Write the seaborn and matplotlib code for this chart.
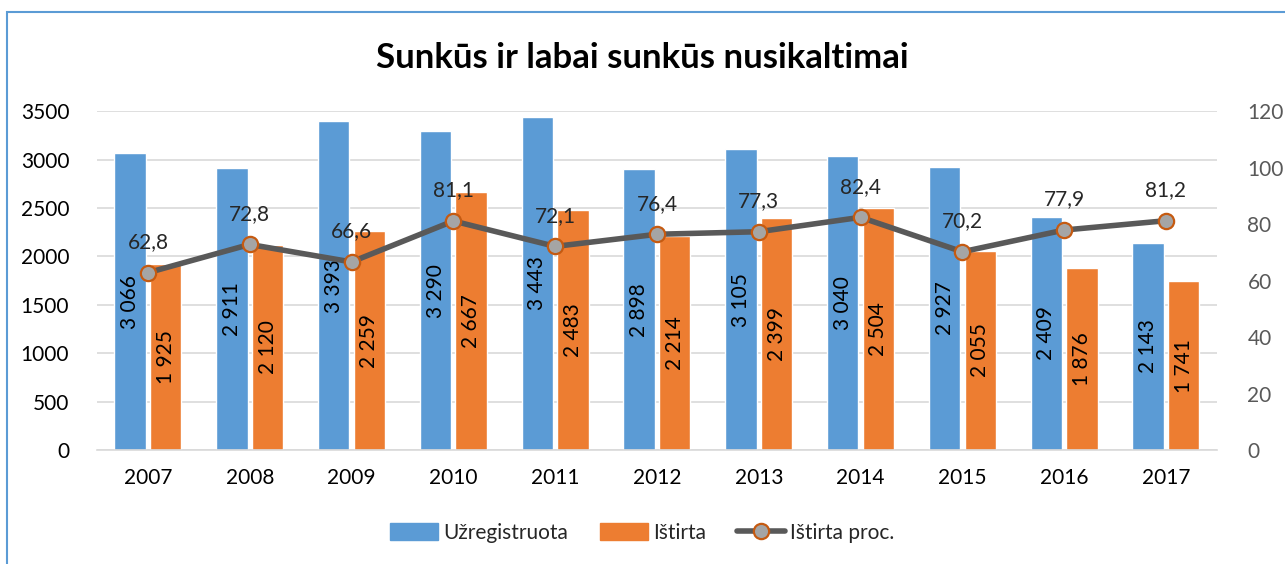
import matplotlib
matplotlib.use("Agg")
import matplotlib.pyplot as plt
import seaborn as sns
import pandas as pd
from matplotlib.lines import Line2D
from matplotlib.patches import Patch, Rectangle

years = ["2007", "2008", "2009", "2010", "2011", "2012", "2013", "2014", "2015", "2016", "2017"]
registered = [3066, 2911, 3393, 3290, 3443, 2898, 3105, 3040, 2927, 2409, 2143]
cleared = [1925, 2120, 2259, 2667, 2483, 2214, 2399, 2504, 2055, 1876, 1741]
cleared_pct = [62.8, 72.8, 66.6, 81.1, 72.1, 76.4, 77.3, 82.4, 70.2, 77.9, 81.2]
series_names = ["Užregistruota", "Ištirta", "Ištirta proc."]
title = "Sunkūs ir labai sunkūs nusikaltimai"

blue, orange, line_c, marker_c = "#5B9BD5", "#ED7D31", "#595959", "#A5A5A5"

sns.set_theme(style="white")
plt.rcParams["font.family"] = ["Lato", "DejaVu Sans"]

df = pd.DataFrame({
    "year": years * 2,
    "value": registered + cleared,
    "series": [series_names[0]] * len(years) + [series_names[1]] * len(years),
})

fig = plt.figure(figsize=(12.85, 5.64), dpi=100)
ax = fig.add_axes([0.0755, 0.202, 0.8715, 0.601])

sns.barplot(data=df, x="year", y="value", hue="series", palette=[blue, orange],
            width=0.7, gap=0.12, ax=ax, legend=False, saturation=1)
ax.set_ylim(0, 3500)
ax.set_yticks(range(0, 3501, 500))
ax.set_xlim(-0.5, len(years) - 0.5)
ax.yaxis.grid(True, color="#D9D9D9", lw=1.2)
ax.set_axisbelow(True)
for s in ["top", "right", "left"]:
    ax.spines[s].set_visible(False)
ax.spines["bottom"].set_color("#D9D9D9")
ax.spines["bottom"].set_linewidth(1.2)
ax.set_xlabel("")
ax.set_ylabel("")
ax.tick_params(axis="both", length=0, labelsize=15, colors="black")
ax.tick_params(axis="x", pad=13)
ax.tick_params(axis="y", pad=20)

for cont in ax.containers:
    labels = [f"{int(v):,}".replace(",", " ") for v in cont.datavalues]
    ax.bar_label(cont, labels=labels, label_type="center", rotation=90, fontsize=15, color="black")

ax2 = ax.twinx()
sns.lineplot(x=list(range(len(years))), y=cleared_pct, ax=ax2, color=line_c, lw=4,
             marker="o", markersize=11, markerfacecolor=marker_c,
             markeredgecolor="#C55A11", markeredgewidth=1.6)
ax2.set_ylim(0, 120)
ax2.set_yticks(range(0, 121, 20))
for s in ax2.spines.values():
    s.set_visible(False)
ax2.tick_params(axis="y", length=0, labelsize=15, colors="#595959", pad=22)
ax2.set_ylabel("")
for i, v in enumerate(cleared_pct):
    ax2.annotate(f"{v:.1f}".replace(".", ","), (i, v), xytext=(0, 22),
                 textcoords="offset points", ha="center", va="center", fontsize=15)

fig.text(0.5, 0.898, title, ha="center", va="center", fontsize=25, fontweight="bold", color="black")

handles = [
    Patch(color=blue, label=series_names[0]),
    Patch(color=orange, label=series_names[1]),
    Line2D([0], [0], color=line_c, lw=4, marker="o", markersize=11,
           markerfacecolor=marker_c, markeredgecolor="#C55A11", markeredgewidth=1.6,
           label=series_names[2]),
]
fig.legend(handles=handles, loc="center", bbox_to_anchor=(0.5, 0.055), ncol=3,
           frameon=False, fontsize=15, handlelength=2.3, handleheight=0.9,
           columnspacing=1.5, handletextpad=0.25)

fig.add_artist(Rectangle((7 / 1285, -0.1), 1.2, (564 - 12) / 564 + 0.1, transform=fig.transFigure,
                         fill=False, edgecolor="#5B9BD5", lw=1.5))

fig.savefig("out.png", dpi=100)
